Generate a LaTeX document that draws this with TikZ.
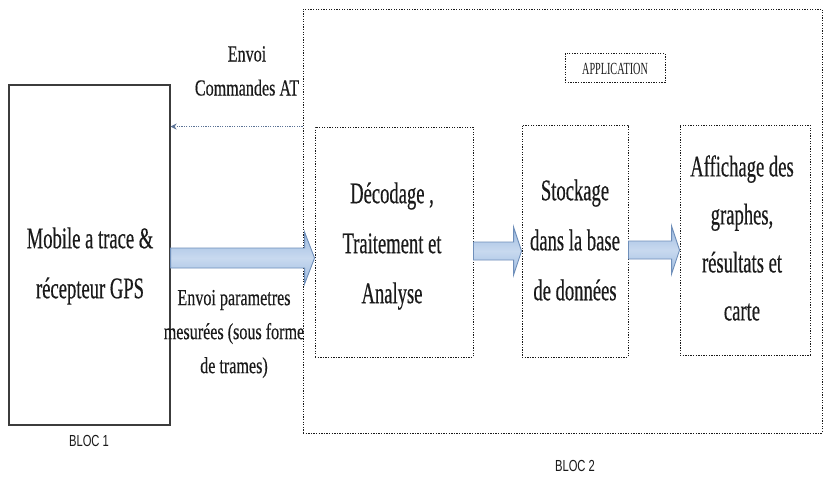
\documentclass[tikz,border=0pt]{standalone}
\usepackage{fontspec}
\usetikzlibrary{calc,arrows.meta}
\newfontfamily\boxfont[FakeStretch=0.62,FakeBold=0.4]{Liberation Serif}
\newfontfamily\lblfont[FakeStretch=0.7,FakeBold=0.3]{Liberation Serif}
\newfontfamily\appfont[FakeStretch=0.6]{Liberation Serif}
\newfontfamily\blocfont[FakeStretch=0.7]{Liberation Sans}
\definecolor{inkc}{HTML}{1A1A1A}
\definecolor{arrline}{HTML}{6F8FBA}
\definecolor{arrlight}{HTML}{C8D9EF}
\definecolor{arrmid}{HTML}{9DBBE0}
\definecolor{dotarr}{HTML}{5C7396}
\tikzset{
  solidbox/.style={draw=inkc!85, line width=1.2pt, inner sep=0pt},
  dotbox/.style={draw=inkc, line width=0.9pt, dash pattern=on 1.3pt off 1.3pt, inner sep=0pt},
  boxtext/.style={text=inkc, align=center, font=\boxfont\fontsize{30}{50}\selectfont},
  lbltext/.style={text=inkc, align=center, font=\lblfont\fontsize{23}{34}\selectfont},
  bloctext/.style={text=inkc, font=\blocfont\fontsize{16}{18}\selectfont},
  fatarrowstyle/.style={draw=arrline, line width=0.9pt, top color=arrmid, bottom color=arrmid, middle color=arrlight},
}
\newcommand\fatarrow[5]{%
  \path[fatarrowstyle] let \p1=(#1), \p2=(#2) in
    (\x1,\y1+#3) -- (\x2-#5,\y1+#3) -- (\x2-#5,\y1+#4) -- (\x2,\y1)
    -- (\x2-#5,\y1-#4) -- (\x2-#5,\y1-#3) -- (\x1,\y1-#3) -- cycle;}
\begin{document}
\begin{tikzpicture}[x=1pt,y=-1pt]
\useasboundingbox[fill=white] (0,0) rectangle (827,482);
% frames
\node[solidbox, minimum width=161pt, minimum height=340pt] (left) at (89.5,255) {};
\node[dotbox, minimum width=519pt, minimum height=424pt] (big) at (562.5,221) {};
\node[dotbox, minimum width=100pt, minimum height=29pt] (app) at (615,68) {};
\node[text=inkc, font=\appfont\fontsize{17}{18}\selectfont] (apptxt) at (615,69) {APPLICATION};
\node[dotbox, minimum width=158pt, minimum height=230pt] (b1) at (394,242) {};
\node[dotbox, minimum width=106pt, minimum height=232pt] (b2) at (575,241) {};
\node[dotbox, minimum width=130pt, minimum height=230pt] (b3) at (745,240) {};
% texts
\node[boxtext] (t0) at (90,266) {Mobile a trace \&\\récepteur GPS};
\node[boxtext] (t1) at (392,246) {Décodage ,\\Traitement et\\Analyse};
\node[boxtext] (t2) at (575,240) {Stockage\\dans la base\\de données};
\node[boxtext, font=\boxfont\fontsize{30}{48}\selectfont] (t3) at (742,238) {Affichage des\\graphes,\\résultats et\\carte};
\node[lbltext] (envoi) at (247,71) {Envoi\\Commandes AT};
\node[lbltext] (params) at (234,334) {Envoi parametres\\mesurées (sous forme\\de trames)};
\node[bloctext] (bloc1) at (89,441) {BLOC 1};
\node[bloctext] (bloc2) at (575,466) {BLOC 2};
% connectors
\draw[dotarr, line width=0.9pt, dash pattern=on 1.2pt off 1.2pt, -{Stealth[length=6pt,width=6pt]}]
  (big.west |- b1.north) -- (left.east |- b1.north);
\coordinate (a1s) at (left.east |- 0,258);
\coordinate (a1e) at (b1.west |- 0,258);
\coordinate (a2s) at (b1.east |- 0,251);
\coordinate (a2e) at (b2.west |- 0,251);
\coordinate (a3s) at (b2.east |- 0,250);
\coordinate (a3e) at (b3.west |- 0,250);
\fatarrow{a1s}{a1e}{10pt}{26pt}{10pt}
\fatarrow{a2s}{a2e}{9pt}{24pt}{8pt}
\fatarrow{a3s}{a3e}{9pt}{24pt}{8pt}
\end{tikzpicture}
\end{document}
